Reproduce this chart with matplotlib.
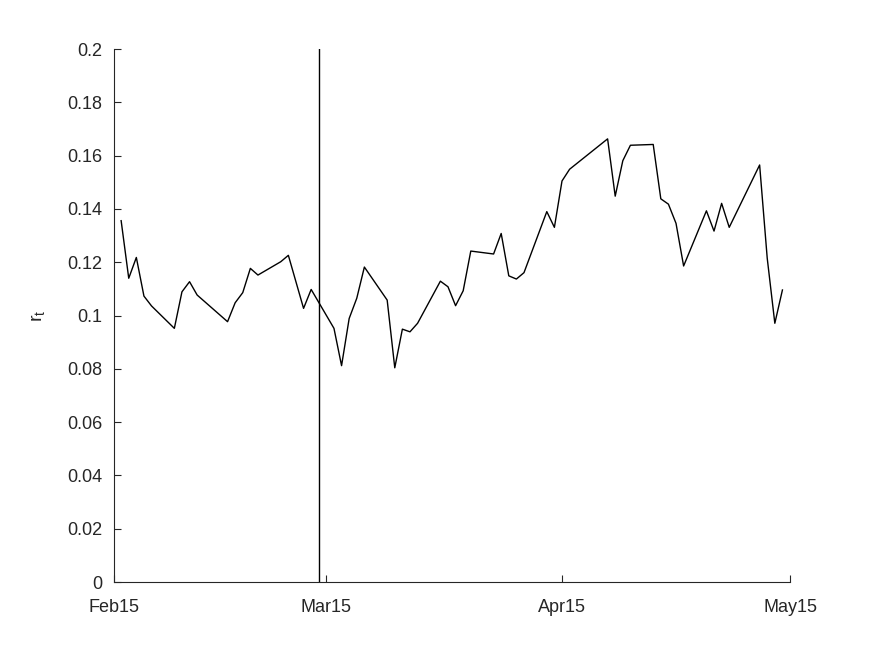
import numpy as np
import matplotlib
matplotlib.use("Agg")
import matplotlib.pyplot as plt
import datetime as dt

# day offsets from 15 Feb 2015
day_offsets = [1, 2, 3, 4, 5, 8, 9, 10, 11, 15, 16, 17, 18, 19, 22, 23, 25, 26,
               29, 30, 31, 32, 33, 36, 37, 38, 39, 40, 43, 44, 45, 46, 47, 50, 51,
               52, 53, 54, 57, 58, 59, 60, 65, 66, 67, 68, 71, 72, 73, 74, 75, 78,
               79, 80, 81, 85, 86, 87, 88]
r_values = [0.1356, 0.1140, 0.1218, 0.1073, 0.1036, 0.0952, 0.1089, 0.1127, 0.1077,
            0.0977, 0.1048, 0.1086, 0.1177, 0.1152, 0.1202, 0.1226, 0.1027, 0.1098,
            0.0952, 0.0812, 0.0989, 0.1065, 0.1182, 0.1058, 0.0804, 0.0949, 0.0939,
            0.0971, 0.1129, 0.1108, 0.1037, 0.1093, 0.1242, 0.1231, 0.1308, 0.1149,
            0.1137, 0.1161, 0.1390, 0.1331, 0.1505, 0.1549, 0.1663, 0.1448, 0.1581,
            0.1639, 0.1642, 0.1438, 0.1418, 0.1346, 0.1186, 0.1393, 0.1317, 0.1421,
            0.1331, 0.1565, 0.1215, 0.0971, 0.1096]
event_offset = 27
tick_labels = ["Feb15", "Mar15", "Apr15", "May15"]
tick_dates = [dt.datetime(2015, 2, 15), dt.datetime(2015, 3, 15),
              dt.datetime(2015, 4, 15), dt.datetime(2015, 5, 15)]
ytick_values = [0, 0.02, 0.04, 0.06, 0.08, 0.1, 0.12, 0.14, 0.16, 0.18, 0.2]
ytick_labels = ['0', '0.02', '0.04', '0.06', '0.08', '0.1', '0.12', '0.14',
                '0.16', '0.18', '0.2']

start = dt.datetime(2015, 2, 15)
dates = [start + dt.timedelta(days=d) for d in day_offsets]
event_date = start + dt.timedelta(days=event_offset)

plt.rcParams['font.family'] = ['Liberation Sans', 'DejaVu Sans']
axcol = '#262626'

fig = plt.figure(figsize=(8.72, 6.54), dpi=100)
ax = fig.add_axes([0.1302, 0.110, 0.7758, 0.815])
ax.plot(dates, r_values, color='black', linewidth=1.0)
ax.plot([event_date, event_date], [0, 0.2], color='black', linewidth=1.0)

ax.set_xlim(tick_dates[0], tick_dates[-1])
ax.set_ylim(0, 0.2)
ax.set_xticks(tick_dates)
ax.set_xticklabels(tick_labels)
ax.set_yticks(ytick_values)
ax.set_yticklabels(ytick_labels)
ax.spines['top'].set_visible(False)
ax.spines['right'].set_visible(False)
for s in ['left', 'bottom']:
    ax.spines[s].set_color(axcol)
    ax.spines[s].set_linewidth(0.8)
ax.tick_params(direction='in', length=5, width=0.8, colors=axcol,
               labelsize=13, labelcolor=axcol)
ax.tick_params(axis='x', pad=12)
ax.tick_params(axis='y', pad=8)
ax.set_ylabel(r'r$_\mathregular{t}$', fontsize=14, color=axcol, labelpad=14)

fig.savefig('out.png', dpi=100)
